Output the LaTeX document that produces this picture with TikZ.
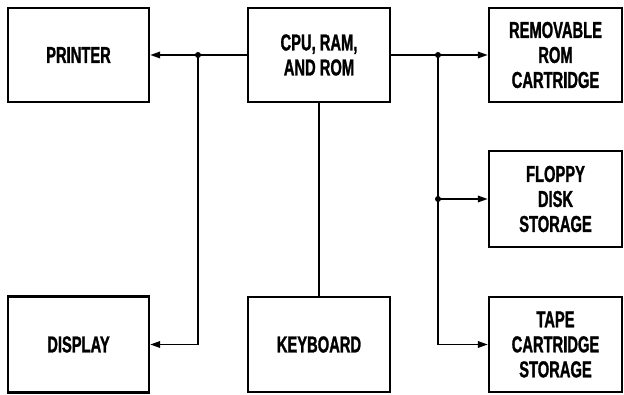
\documentclass[tikz,border=0pt]{standalone}
\usepackage{fontspec}
\setmainfont{Liberation Sans}[FakeStretch=0.64, FakeBold=1.2]
\usepackage{tikz}
\usetikzlibrary{arrows.meta, calc}

\begin{document}
\begin{tikzpicture}[x=1pt, y=-1pt,
  box/.style={draw, line width=2.4pt, minimum width=141pt, align=center, inner sep=2pt,
    font=\fontsize{23}{25}\selectfont\bfseries},
  arrow/.style={-{Triangle[length=10pt, width=6.5pt]}, line width=1.8pt},
  link/.style={line width=1.8pt},
  dot/.style={circle, fill, inner sep=0pt, minimum size=6pt}
]
  \useasboundingbox (0,0) rectangle (624,395);

  \node[box, minimum height=94pt] (printer) at (78.5,55) {PRINTER};
  \node[box, minimum height=94pt, minimum width=142pt] (cpu) at (319,55) {CPU, RAM,\\AND ROM};
  \node[box, minimum height=94pt, minimum width=133pt] (rom) at (555.5,55) {REMOVABLE\\ROM\\CARTRIDGE};
  \node[box, minimum height=96pt, minimum width=133pt] (floppy) at (555.5,199) {FLOPPY\\DISK\\STORAGE};
  \node[box, minimum height=95pt, minimum width=133pt] (tape) at (555.5,344.5) {TAPE\\CARTRIDGE\\STORAGE};
  \node[box, minimum height=96pt] (display) at (78.5,344.5) {DISPLAY};
  \node[box, minimum height=95pt, minimum width=142pt] (keyboard) at (319,344.5) {KEYBOARD};

  \coordinate (jl) at (198,55);
  \coordinate (jr) at (438,55);
  \coordinate (jf) at (jr |- floppy.west);

  \draw[arrow] (cpu.west) -- (printer.east);
  \draw[arrow] (jl) |- (display.east);
  \draw[arrow] (cpu.east) -- (rom.west);
  \draw[arrow] (jr) |- (tape.west);
  \draw[arrow] (jf) -- (floppy.west);
  \draw[link] (cpu.south) -- (keyboard.north);

  \node[dot] (djl) at (jl) {};
  \node[dot] (djr) at (jr) {};
  \node[dot] (djf) at (jf) {};
\end{tikzpicture}
\end{document}
